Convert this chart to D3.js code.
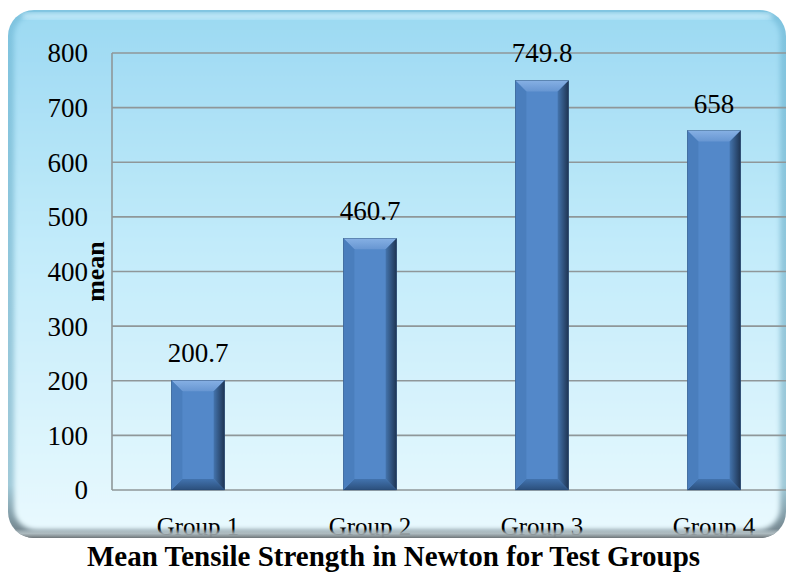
<!DOCTYPE html>
<html>
<head>
<meta charset="utf-8">
<script src="https://cdn.jsdelivr.net/npm/d3@7"></script>
<style>
  html, body { margin: 0; padding: 0; background: #fff; }
  svg { display: block; }
</style>
</head>
<body>
<svg id="chart" width="787" height="574"></svg>
<script>
// Mean tensile strength (N) per test group
const categories = ["Group 1", "Group 2", "Group 3", "Group 4"];
const means = [200.7, 460.7, 749.8, 658];
const valueLabels = ["200.7", "460.7", "749.8", "658"];
const yTicks = [0, 100, 200, 300, 400, 500, 600, 700, 800];
const yTitle = "mean";
const chartTitle = "Mean Tensile Strength in Newton for Test Groups";

const SERIF = "'Liberation Serif'";
const svg = d3.select("#chart");

const panel = { x: 8, y: 10, w: 778, h: 528, r: 26 };
const plot = { left: 112, right: 800, top: 53, bottom: 490 };

const defs = svg.append("defs");

const bg = defs.append("linearGradient").attr("id", "panelBg")
  .attr("x1", 0).attr("y1", 0).attr("x2", 0).attr("y2", 1);
bg.append("stop").attr("offset", "0%").attr("stop-color", "#9cd9f2");
bg.append("stop").attr("offset", "45%").attr("stop-color", "#c2ebfa");
bg.append("stop").attr("offset", "100%").attr("stop-color", "#e8f9fe");

const rim = defs.append("linearGradient").attr("id", "panelRim")
  .attr("x1", 0).attr("y1", 0).attr("x2", 0).attr("y2", 1);
rim.append("stop").attr("offset", "0%").attr("stop-color", "#7ec3df");
rim.append("stop").attr("offset", "90%").attr("stop-color", "#9fc9d8");
rim.append("stop").attr("offset", "100%").attr("stop-color", "#6f7d84");

const blur = defs.append("filter").attr("id", "soft")
  .attr("x", "-5%").attr("y", "-5%").attr("width", "110%").attr("height", "110%");
blur.append("feGaussianBlur").attr("stdDeviation", 2.5);

// bar face gradients
const rightFace = defs.append("linearGradient").attr("id", "rightFace")
  .attr("x1", 0).attr("y1", 0).attr("x2", 1).attr("y2", 0);
rightFace.append("stop").attr("offset", "0%").attr("stop-color", "#4474ad");
rightFace.append("stop").attr("offset", "100%").attr("stop-color", "#1e3452");
const topFace = defs.append("linearGradient").attr("id", "topFace")
  .attr("x1", 0).attr("y1", 0).attr("x2", 0).attr("y2", 1);
topFace.append("stop").attr("offset", "0%").attr("stop-color", "#86b0e4");
topFace.append("stop").attr("offset", "100%").attr("stop-color", "#6796d2");
const bottomFace = defs.append("linearGradient").attr("id", "bottomFace")
  .attr("x1", 0).attr("y1", 0).attr("x2", 0).attr("y2", 1);
bottomFace.append("stop").attr("offset", "0%").attr("stop-color", "#4273ae");
bottomFace.append("stop").attr("offset", "100%").attr("stop-color", "#2b4f7c");

defs.append("clipPath").attr("id", "panelClip")
  .append("rect")
  .attr("x", panel.x).attr("y", panel.y)
  .attr("width", panel.w).attr("height", panel.h)
  .attr("rx", panel.r);

// Panel: darker rim, then a softened lighter body inset from it
svg.append("rect")
  .attr("x", panel.x).attr("y", panel.y)
  .attr("width", panel.w).attr("height", panel.h)
  .attr("rx", panel.r)
  .attr("fill", "url(#panelRim)");

const body = svg.append("g").attr("clip-path", "url(#panelClip)");
body.append("rect")
  .attr("x", panel.x + 6).attr("y", panel.y + 4)
  .attr("width", panel.w - 12).attr("height", panel.h - 12)
  .attr("rx", panel.r - 4)
  .attr("fill", "url(#panelBg)")
  .attr("filter", "url(#soft)");
// top highlight streak
body.append("rect")
  .attr("x", panel.x + 14).attr("y", panel.y + 3)
  .attr("width", panel.w - 28).attr("height", 6)
  .attr("rx", 3)
  .attr("fill", "#d4f1fc").attr("opacity", 0.7)
  .attr("filter", "url(#soft)");

const x = d3.scaleBand().domain(categories)
  .range([plot.left, plot.right]).paddingInner(0.69).paddingOuter(0.345);
const y = d3.scaleLinear().domain([0, 800]).range([plot.bottom, plot.top]);

// Gridlines
body.append("g").selectAll("line").data(yTicks).join("line")
  .attr("x1", plot.left).attr("x2", plot.right)
  .attr("y1", d => y(d)).attr("y2", d => y(d))
  .attr("stroke", "#8f9799").attr("stroke-width", 1.6);

// Value axis line
body.append("line")
  .attr("x1", plot.left).attr("x2", plot.left)
  .attr("y1", plot.top).attr("y2", plot.bottom)
  .attr("stroke", "#8f9799").attr("stroke-width", 1.6);

// Y tick labels via axis generator
const yAxis = d3.axisLeft(y).tickValues(yTicks).tickSize(0).tickPadding(24);
const yg = svg.append("g").attr("transform", `translate(${plot.left},0)`).call(yAxis);
yg.attr("font-family", null).style("font-family", SERIF);
yg.select(".domain").remove();
yg.selectAll("text")
  .style("font-family", SERIF)
  .attr("font-size", 27).attr("fill", "#000").attr("dy", "0.33em");

// Y axis title
svg.append("text")
  .attr("transform", `translate(104,${y(400)}) rotate(-90)`)
  .attr("text-anchor", "middle")
  .style("font-family", SERIF)
  .attr("font-weight", "bold").attr("font-size", 26)
  .text(yTitle);

// Bevelled bars
const bars = body.append("g").selectAll("g").data(means).join("g");
const bev = 11;
bars.each(function(v, i) {
  const g = d3.select(this);
  const x0 = x(categories[i]), w = x.bandwidth();
  const y0 = y(v), y1 = y(0);
  const x1 = x0 + w;
  const pts = a => a.map(p => p.join(",")).join(" ");
  g.append("rect").attr("x", x0).attr("y", y0).attr("width", w).attr("height", y1 - y0)
    .attr("fill", "#5388c9");
  // top face
  g.append("polygon").attr("points",
    pts([[x0, y0], [x1, y0], [x1 - bev, y0 + bev], [x0 + bev, y0 + bev]]))
    .attr("fill", "url(#topFace)");
  // right face
  g.append("polygon").attr("points",
    pts([[x1, y0], [x1, y1], [x1 - bev, y1 - bev], [x1 - bev, y0 + bev]]))
    .attr("fill", "url(#rightFace)");
  // bottom face
  g.append("polygon").attr("points",
    pts([[x0, y1], [x1, y1], [x1 - bev, y1 - bev], [x0 + bev, y1 - bev]]))
    .attr("fill", "url(#bottomFace)");
  // left face
  g.append("polygon").attr("points",
    pts([[x0, y0], [x0, y1], [x0 + bev, y1 - bev], [x0 + bev, y0 + bev]]))
    .attr("fill", "#4a7ebd");
  g.append("rect").attr("x", x0).attr("y", y0).attr("width", w).attr("height", y1 - y0)
    .attr("fill", "none").attr("stroke", "#1f3f66").attr("stroke-width", 0.6).attr("opacity", 0.6);
});

// Value labels
body.append("g").selectAll("text").data(means).join("text")
  .attr("x", (d, i) => x(categories[i]) + x.bandwidth() / 2)
  .attr("y", d => y(d) - 18)
  .attr("text-anchor", "middle")
  .style("font-family", SERIF)
  .attr("font-size", 27).attr("fill", "#000")
  .text((d, i) => valueLabels[i]);

// Category labels (clipped by panel bottom)
const xAxis = d3.axisBottom(x).tickSize(0).tickPadding(0);
const xg = body.append("g").attr("transform", `translate(0,${plot.bottom})`).call(xAxis);
xg.attr("font-family", null).style("font-family", SERIF);
xg.select(".domain").remove();
xg.selectAll("text")
  .style("font-family", SERIF)
  .attr("font-size", 25).attr("fill", "#000")
  .attr("dy", null).attr("y", 45);

// bottom shading of panel over labels
const shade = defs.append("linearGradient").attr("id", "bottomShade")
  .attr("x1", 0).attr("y1", 0).attr("x2", 0).attr("y2", 1);
shade.append("stop").attr("offset", "0%").attr("stop-color", "#dfeef2").attr("stop-opacity", 0);
shade.append("stop").attr("offset", "50%").attr("stop-color", "#b9c6ca").attr("stop-opacity", 0.8);
shade.append("stop").attr("offset", "100%").attr("stop-color", "#6d7478").attr("stop-opacity", 1);
body.append("rect")
  .attr("x", panel.x).attr("y", panel.y + panel.h - 9)
  .attr("width", panel.w).attr("height", 9)
  .attr("fill", "url(#bottomShade)");

// Title
svg.append("text")
  .attr("x", 393.5).attr("y", 566)
  .attr("text-anchor", "middle")
  .style("font-family", SERIF)
  .attr("font-weight", "bold").attr("font-size", 29)
  .text(chartTitle);
</script>
</body>
</html>
